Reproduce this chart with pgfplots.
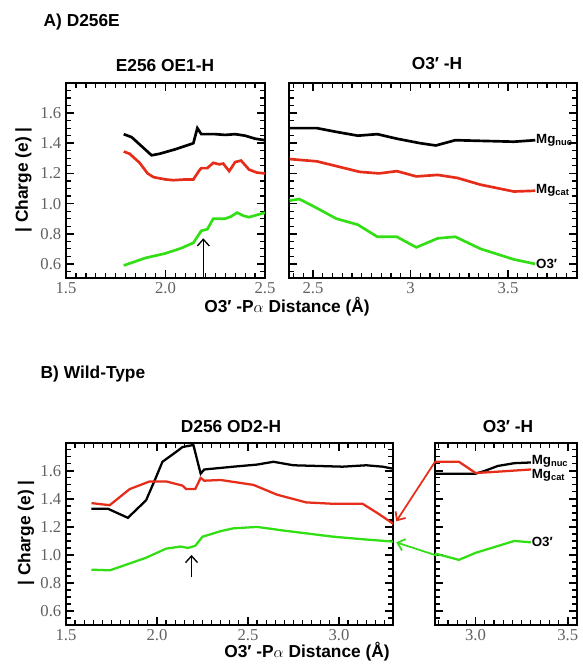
\documentclass[border=0pt]{standalone}
\usepackage{fontspec}
\setmainfont{Liberation Serif}
\setsansfont{Liberation Sans}
\usepackage{pgfplots}
\pgfplotsset{compat=1.18}
\usetikzlibrary{arrows.meta}

\definecolor{redc}{RGB}{230,45,25}
\definecolor{greenc}{RGB}{50,222,20}

\pgfplotsset{
  panel/.style={
    scale only axis,
    anchor=south west,
    axis line style={line width=1.8pt},
    major tick length=6pt,
    minor tick length=3.5pt,
    every tick/.append style={black,line width=1.1pt},
    every minor tick/.append style={line width=0.9pt},
    tick align=inside,
    /pgf/number format/assume math mode=true,
    tick label style={font=\fontsize{12.5}{14}\selectfont,text=black!62},
    ytick={0.6,0.8,1.0,1.2,1.4,1.6},
    minor ytick={0.55,0.65,0.7,0.75,0.85,0.9,0.95,1.05,1.1,1.15,1.25,1.3,1.35,1.45,1.5,1.55,1.65,1.7,1.75},
    yticklabel style={/pgf/number format/.cd,fixed,fixed zerofill,precision=1},
  },
  blk/.style={black,line width=2pt},
  rd/.style={redc,line width=2pt},
  gr/.style={greenc,line width=2pt},
}
\tikzset{
  lbl/.style={font=\sffamily\bfseries\fontsize{13}{15}\selectfont},
  tag/.style={font=\sffamily\bfseries\fontsize{10}{11}\selectfont,anchor=west,inner sep=0.5pt},
  barb/.style={-{Straight Barb[length=5pt,width=9pt]}},
}

\begin{document}
\begin{tikzpicture}
\path (0,0) rectangle (435pt,500.25pt);

% ---------- A) D256E ----------
\begin{axis}[panel, at={(49.5pt,291.75pt)}, width=149.25pt, height=146.25pt,
  xmin=1.5, xmax=2.5, ymin=0.507, ymax=1.799,
  xtick={1.5,2.0,2.5},
  minor xtick={1.55,1.6,1.65,1.7,1.75,1.8,1.85,1.9,1.95,2.05,2.1,2.15,2.2,2.25,2.3,2.35,2.4,2.45},
  xticklabel style={/pgf/number format/.cd,fixed,fixed zerofill,precision=1}]
\addplot[blk] coordinates {(1.79,1.46) (1.83,1.44) (1.88,1.38) (1.93,1.32) (1.97,1.33) (2.05,1.36) (2.14,1.40) (2.16,1.50) (2.18,1.46) (2.25,1.46) (2.30,1.455) (2.35,1.46) (2.40,1.45) (2.45,1.43) (2.50,1.42)};
\addplot[rd] coordinates {(1.79,1.345) (1.82,1.33) (1.87,1.27) (1.91,1.20) (1.94,1.175) (2.0,1.16) (2.04,1.155) (2.10,1.16) (2.14,1.16) (2.17,1.22) (2.18,1.235) (2.21,1.235) (2.24,1.27) (2.27,1.26) (2.29,1.265) (2.32,1.215) (2.35,1.275) (2.38,1.285) (2.42,1.225) (2.46,1.205) (2.50,1.20)};
\addplot[gr] coordinates {(1.79,0.59) (1.9,0.64) (2.0,0.67) (2.08,0.705) (2.14,0.74) (2.18,0.82) (2.21,0.83) (2.24,0.90) (2.30,0.90) (2.33,0.915) (2.36,0.94) (2.39,0.92) (2.42,0.91) (2.50,0.94)};
\draw[barb,line width=1pt] (axis cs:2.19,0.515) -- (axis cs:2.19,0.77);
\end{axis}

\begin{axis}[panel, at={(216.75pt,291.75pt)}, width=216pt, height=146.25pt,
  xmin=2.377, xmax=3.854, ymin=0.507, ymax=1.799,
  xtick={2.5,3,3.5},
  minor xtick={2.4,2.45,2.55,2.6,2.65,2.7,2.75,2.8,2.85,2.9,2.95,3.05,3.1,3.15,3.2,3.25,3.3,3.35,3.4,3.45,3.55,3.6,3.65,3.7,3.75,3.8,3.85},
  yticklabels={}]
\addplot[blk] coordinates {(2.38,1.50) (2.52,1.50) (2.62,1.475) (2.73,1.45) (2.83,1.46) (2.93,1.43) (3.05,1.40) (3.13,1.385) (3.23,1.42) (3.38,1.415) (3.53,1.41) (3.64,1.42)};
\addplot[rd] coordinates {(2.38,1.295) (2.52,1.28) (2.74,1.21) (2.84,1.20) (2.93,1.215) (3.03,1.18) (3.14,1.19) (3.24,1.17) (3.36,1.125) (3.53,1.08) (3.64,1.085)};
\addplot[gr] coordinates {(2.38,1.02) (2.43,1.03) (2.52,0.97) (2.62,0.90) (2.73,0.86) (2.83,0.78) (2.93,0.78) (3.03,0.71) (3.14,0.77) (3.23,0.78) (3.36,0.70) (3.53,0.63) (3.64,0.60)};
\node[tag] at (axis cs:3.64,1.42) {Mg\textsubscript{nuc}};
\node[tag] at (axis cs:3.64,1.085) {Mg\textsubscript{cat}};
\node[tag] at (axis cs:3.64,0.60) {O3′};
\end{axis}

\node[lbl,anchor=west] at (29.25pt,483.4pt) {A) D256E};
\node[lbl] at (123.75pt,451.1pt) {E256 OE1-H};
\node[lbl] at (327.75pt,452.25pt) {O3′ -H};
\node[lbl] at (215.25pt,270pt) {O3′ -P$\alpha$ Distance (Å)};
\node[lbl,rotate=90] at (17.6pt,365.25pt) {| Charge (e) |};

% ---------- B) Wild-Type ----------
\begin{axis}[panel, at={(49.5pt,31.5pt)}, width=245.25pt, height=136.5pt,
  xmin=1.5, xmax=3.297, ymin=0.5, ymax=1.799,
  xtick={1.5,2.0,2.5,3.0},
  minor xtick={1.55,1.6,1.65,1.7,1.75,1.8,1.85,1.9,1.95,2.05,2.1,2.15,2.2,2.25,2.3,2.35,2.4,2.45,2.55,2.6,2.65,2.7,2.75,2.8,2.85,2.9,2.95,3.05,3.1,3.15,3.2,3.25},
  xticklabel style={/pgf/number format/.cd,fixed,fixed zerofill,precision=1}]
\addplot[blk,line width=1.7pt] coordinates {(1.64,1.33) (1.73,1.33) (1.84,1.265) (1.94,1.39) (1.99,1.54) (2.03,1.665) (2.11,1.74) (2.14,1.77) (2.20,1.785) (2.24,1.58) (2.26,1.61) (2.42,1.63) (2.55,1.645) (2.64,1.665) (2.75,1.64) (3.02,1.63) (3.15,1.64) (3.24,1.63) (3.30,1.615)};
\addplot[rd,line width=1.7pt] coordinates {(1.64,1.37) (1.74,1.355) (1.85,1.47) (1.96,1.525) (2.05,1.525) (2.14,1.495) (2.16,1.47) (2.21,1.47) (2.24,1.55) (2.26,1.53) (2.35,1.535) (2.53,1.50) (2.66,1.43) (2.82,1.375) (2.97,1.365) (3.13,1.365) (3.21,1.30) (3.29,1.23) (3.30,1.22)};
\addplot[gr,line width=1.7pt] coordinates {(1.64,0.895) (1.74,0.89) (1.83,0.93) (1.94,0.98) (2.05,1.045) (2.13,1.06) (2.17,1.05) (2.21,1.065) (2.25,1.13) (2.35,1.17) (2.42,1.19) (2.55,1.20) (2.69,1.175) (2.97,1.13) (3.15,1.11) (3.30,1.095)};
\draw[barb,line width=1pt] (axis cs:2.19,0.84) -- (axis cs:2.19,1.0);
\coordinate (redend) at (axis cs:3.315,1.24);
\coordinate (greenend) at (axis cs:3.315,1.09);
\end{axis}

\begin{axis}[panel, at={(326.25pt,31.5pt)}, width=106.5pt, height=136.5pt,
  xmin=2.78, xmax=3.55, ymin=0.5, ymax=1.799,
  xtick={3.0,3.5},
  minor xtick={2.8,2.85,2.9,2.95,3.05,3.1,3.15,3.2,3.25,3.3,3.35,3.4,3.45,3.55},
  xticklabel style={/pgf/number format/.cd,fixed,fixed zerofill,precision=1},
  yticklabels={}]
\addplot[blk,line width=1.7pt] coordinates {(2.78,1.58) (3.0,1.58) (3.05,1.60) (3.12,1.635) (3.21,1.655) (3.30,1.66)};
\addplot[rd,line width=1.7pt] coordinates {(2.78,1.665) (2.91,1.665) (3.0,1.585) (3.07,1.59) (3.30,1.61)};
\addplot[gr,line width=1.7pt] coordinates {(2.78,1.01) (2.91,0.965) (3.0,1.015) (3.21,1.10) (3.30,1.09)};
\node[tag] at (axis cs:3.30,1.665) {Mg\textsubscript{nuc}};
\node[tag] at (axis cs:3.30,1.565) {Mg\textsubscript{cat}};
\node[tag] at (axis cs:3.30,1.09) {O3′};
\coordinate (redstart) at (axis cs:2.78,1.665);
\coordinate (greenstart) at (axis cs:2.79,0.995);
\end{axis}

\draw[barb,redc,line width=1.3pt] (redstart) -- (redend);
\draw[barb,greenc,line width=1.3pt] (greenstart) -- (greenend);

\node[lbl,anchor=west] at (27pt,219.75pt) {B) Wild-Type};
\node[lbl] at (173.25pt,180pt) {D256 OD2-H};
\node[lbl] at (381pt,180pt) {O3′ -H};
\node[lbl] at (230.25pt,11.25pt) {O3′ -P$\alpha$ Distance (Å)};
\node[lbl,rotate=90] at (19.5pt,100.5pt) {| Charge (e) |};
\end{tikzpicture}
\end{document}
